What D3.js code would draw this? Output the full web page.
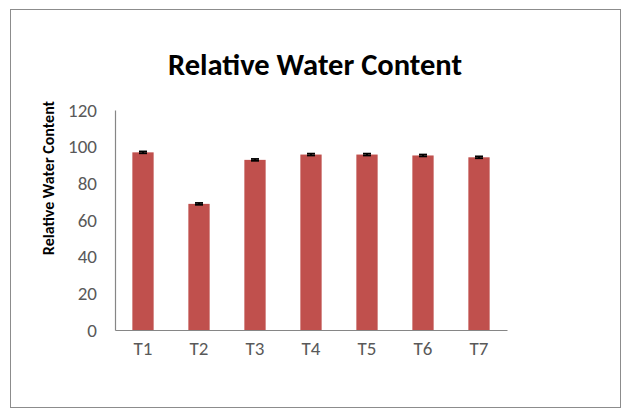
<!DOCTYPE html>
<html><head><meta charset="utf-8">
<script src="https://cdn.jsdelivr.net/npm/d3@7"></script>
<style>html,body{margin:0;padding:0;background:#fff;}</style>
</head><body>
<svg id="c" width="622" height="410"></svg>
<script>
const categories = ["T1","T2","T3","T4","T5","T6","T7"];
const values = [96.9, 68.8, 92.8, 95.7, 95.7, 95.2, 94.2];
const errors = [0.5, 0.5, 0.5, 0.5, 0.5, 0.5, 0.5];
const yTicks = [0,20,40,60,80,100,120];
const title = "Relative Water Content";
const yTitle = "Relative Water Content";

const svg = d3.select("#c");
svg.append("rect").attr("x",10.5).attr("y",9.5).attr("width",610).attr("height",398)
  .attr("fill","#fff").attr("stroke","#8c8c8c").attr("stroke-width",1);

const x = d3.scaleBand().domain(categories).range([115,507]).paddingInner(0.62).paddingOuter(0.31);
const y = d3.scaleLinear().domain([0,120]).range([330,110]);

const font = "Calibri, Carlito, Lato, 'Open Sans', 'Liberation Sans', sans-serif";

svg.append("g").selectAll("rect").data(categories).join("rect")
  .attr("x",d=>x(d)).attr("width",x.bandwidth())
  .attr("y",(d,i)=>y(values[i])).attr("height",(d,i)=>y(0)-y(values[i]))
  .attr("fill","#c0504d");

// error bars
const eb = svg.append("g").attr("stroke","#000").attr("stroke-width",1.8);
categories.forEach((d,i)=>{
  const cx = x(d)+x.bandwidth()/2;
  eb.append("line").attr("x1",cx).attr("x2",cx).attr("y1",y(values[i]+errors[i])).attr("y2",y(values[i]-errors[i]));
  eb.append("line").attr("x1",cx-4).attr("x2",cx+4).attr("y1",y(values[i]+errors[i])).attr("y2",y(values[i]+errors[i]));
  eb.append("line").attr("x1",cx-4).attr("x2",cx+4).attr("y1",y(values[i]-errors[i])).attr("y2",y(values[i]-errors[i]));
});

// axes
const yAxis = svg.append("g").attr("transform","translate(115,0)")
  .call(d3.axisLeft(y).tickValues(yTicks).tickSize(0).tickPadding(18));
yAxis.select(".domain").attr("stroke","#868686").attr("stroke-width",1.2);
yAxis.selectAll("text").attr("font-family",font).attr("font-size",19).attr("fill","#595959");

const xAxis = svg.append("g").attr("transform","translate(0,330)")
  .call(d3.axisBottom(x).tickSize(0).tickPadding(12));
xAxis.select(".domain").attr("stroke","#868686").attr("stroke-width",1.2);
xAxis.selectAll("text").attr("font-family",font).attr("font-size",19).attr("fill","#595959");

svg.append("text").attr("x",315).attr("y",75).attr("text-anchor","middle")
  .attr("font-family",font).attr("font-weight","bold").attr("font-size",30.5).attr("fill","#000")
  .text(title);

svg.append("text").attr("transform","translate(54,178) rotate(-90)").attr("text-anchor","middle")
  .attr("font-family",font).attr("font-weight","bold").attr("font-size",16).attr("fill","#000")
  .text(yTitle);
</script>
</body></html>
